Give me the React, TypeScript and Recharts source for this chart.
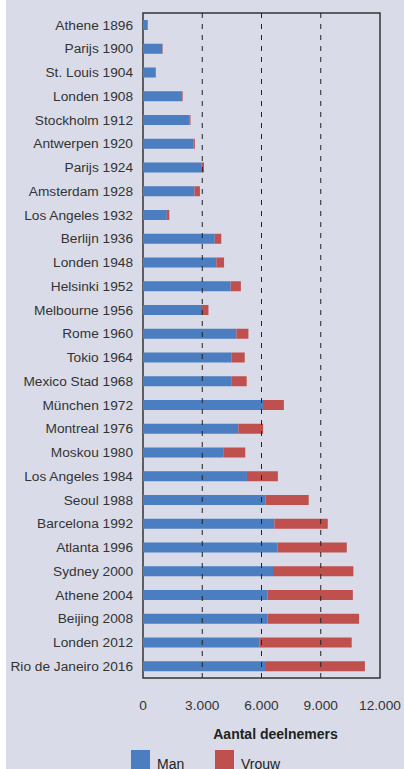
import {
  Bar,
  BarChart,
  Label,
  ReferenceArea,
  ReferenceLine,
  XAxis,
  YAxis,
} from "recharts";

const games = [
  "Athene 1896",
  "Parijs 1900",
  "St. Louis 1904",
  "Londen 1908",
  "Stockholm 1912",
  "Antwerpen 1920",
  "Parijs 1924",
  "Amsterdam 1928",
  "Los Angeles 1932",
  "Berlijn 1936",
  "Londen 1948",
  "Helsinki 1952",
  "Melbourne 1956",
  "Rome 1960",
  "Tokio 1964",
  "Mexico Stad 1968",
  "München 1972",
  "Montreal 1976",
  "Moskou 1980",
  "Los Angeles 1984",
  "Seoul 1988",
  "Barcelona 1992",
  "Atlanta 1996",
  "Sydney 2000",
  "Athene 2004",
  "Beijing 2008",
  "Londen 2012",
  "Rio de Janeiro 2016",
];

const men = [
  241, 975, 645, 1971, 2359, 2561, 2954, 2606, 1206, 3632, 3714, 4436, 2938,
  4727, 4473, 4470, 6075, 4824, 4064, 5263, 6197, 6652, 6806, 6582, 6296,
  6305, 5892, 6178,
];

const women = [
  0, 22, 6, 37, 48, 65, 135, 277, 126, 331, 390, 519, 376, 611, 678, 780,
  1059, 1260, 1115, 1566, 2194, 2704, 3512, 4069, 4329, 4637, 4676, 5059,
];

const xTicks = [0, 3000, 6000, 9000, 12000];
const gridValues = [3000, 6000, 9000];

const BLUE = "#4a7ec1";
const RED = "#c0504d";
const FONT = "'Liberation Sans', Arial, sans-serif";

const data = games.map((g, i) => ({ game: g, man: men[i], vrouw: women[i] }));

const fmt = (v: number) => (v === 0 ? "0" : v.toLocaleString("de-DE"));

export default function App() {
  return (
    <div
      style={{
        position: "fixed",
        left: 0,
        top: 0,
        width: 404,
        height: 769,
        background: "#ffffff",
        overflow: "hidden",
        fontFamily: FONT,
      }}
    >
      <div
        style={{
          position: "absolute",
          left: 6,
          top: 0,
          width: 398,
          height: 769,
          background: "#d9dce8",
        }}
      >
        <BarChart
          width={398}
          height={769}
          data={data}
          layout="vertical"
          margin={{ top: 13, right: 24, left: 0, bottom: 0 }}
          barSize={10}
        >
          <XAxis
            type="number"
            domain={[0, 12000]}
            ticks={xTicks}
            tickFormatter={fmt}
            axisLine={false}
            tickLine={false}
            tickSize={0}
            tickMargin={22}
            height={91}
            interval={0}
            tick={{ fontSize: 13.7, fill: "#333", fontFamily: FONT }}
          >
            <Label
              value="Aantal deelnemers"
              position="insideTop"
              offset={51}
              dx={14}
              style={{ fontSize: 14, fontWeight: 700, fill: "#222", fontFamily: FONT }}
            />
          </XAxis>
          <YAxis
            type="category"
            dataKey="game"
            width={137}
            axisLine={false}
            tickLine={false}
            tickSize={0}
            tickMargin={10}
            interval={0}
            tick={{ fontSize: 13.7, fill: "#333", fontFamily: FONT }}
          />
          {gridValues.map((v) => (
            <ReferenceLine
              key={v}
              x={v}
              stroke="#222"
              strokeWidth={1}
              strokeDasharray="5 6"
            />
          ))}
          <Bar dataKey="man" stackId="a" fill={BLUE} isAnimationActive={false} />
          <Bar dataKey="vrouw" stackId="a" fill={RED} isAnimationActive={false} />
          <ReferenceArea
            x1={0}
            x2={12000}
            fill="none"
            stroke="#333"
            strokeWidth={1.5}
          />
        </BarChart>
        <div
          style={{
            position: "absolute",
            left: 125,
            top: 750,
            display: "flex",
            alignItems: "flex-start",
            fontSize: 14,
            color: "#222",
          }}
        >
          <div style={{ width: 19, height: 19, background: BLUE }} />
          <span style={{ marginLeft: 7, marginTop: 6, width: 58 }}>Man</span>
          <div style={{ width: 19, height: 19, background: RED }} />
          <span style={{ marginLeft: 7, marginTop: 6 }}>Vrouw</span>
        </div>
      </div>
    </div>
  );
}
